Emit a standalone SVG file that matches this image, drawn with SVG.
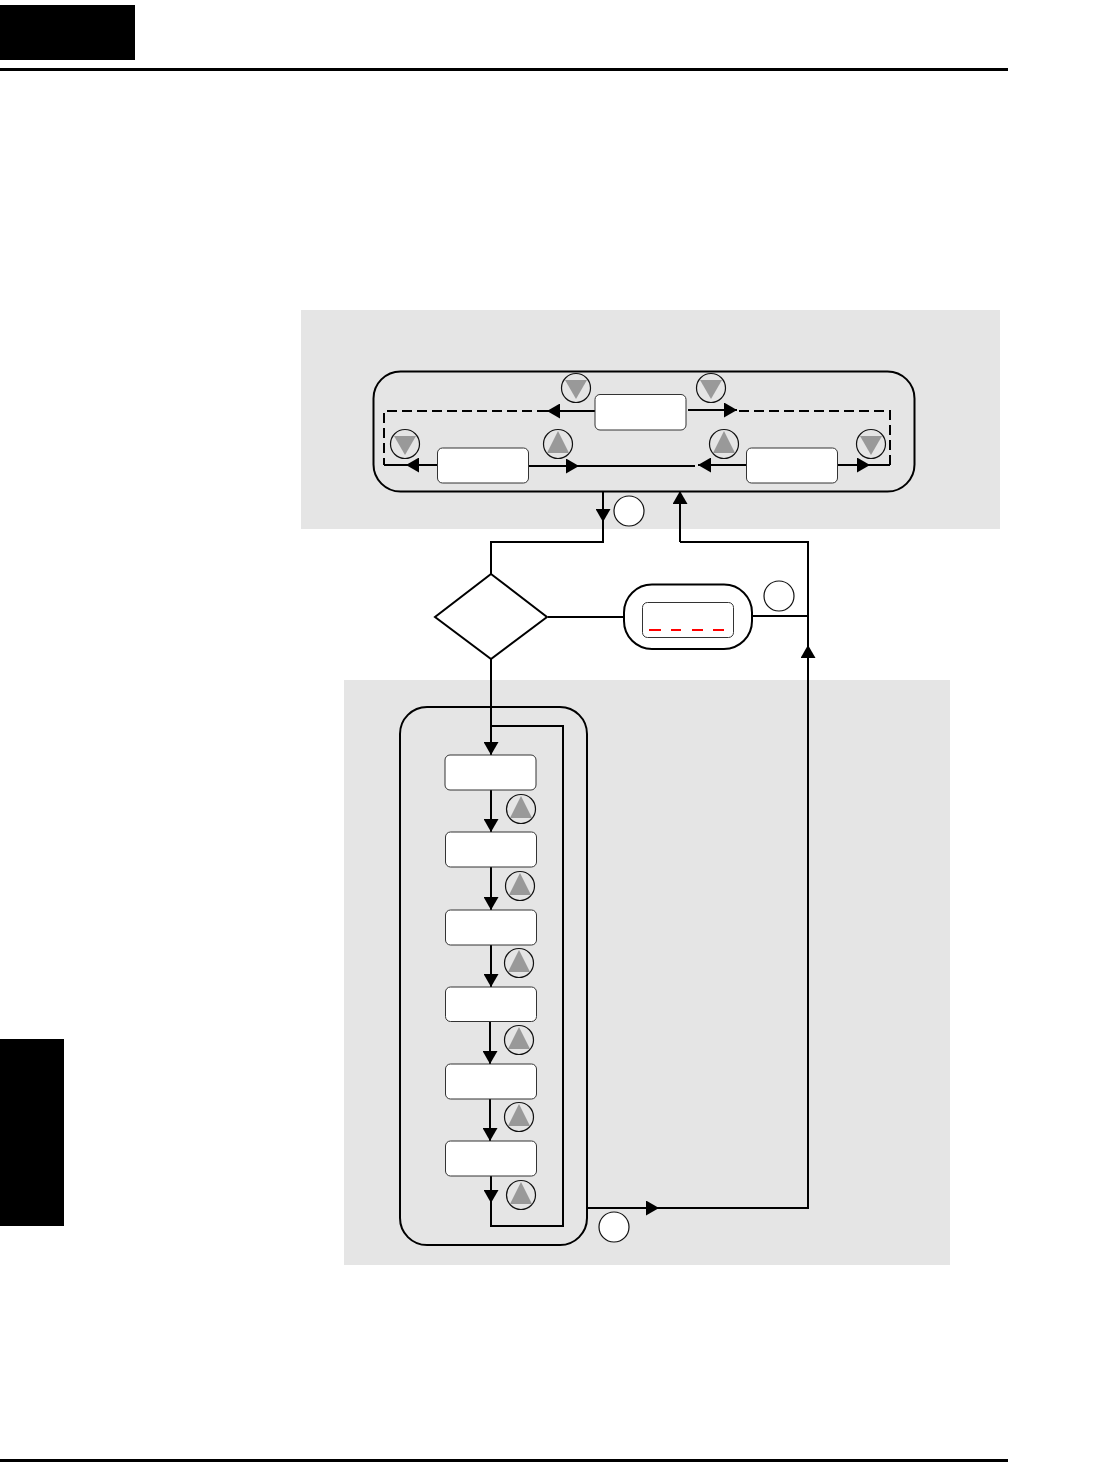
<svg xmlns="http://www.w3.org/2000/svg" width="1120" height="1471" viewBox="0 0 1120 1471">
<defs>
<style>
.panel{fill:#e5e5e5}
.black{fill:#000}
.frame{fill:none;stroke:#000;stroke-width:2}
.box{fill:#fff;stroke:#333;stroke-width:1}
.badge{fill:#fff;stroke:#111;stroke-width:1.200}
.btn{fill:none;stroke:#111;stroke-width:1.200}
.tri{fill:#999}
.wire{fill:none;stroke:#000;stroke-width:2}
.arr{marker-end:url(#ah)}
.dash{stroke-dasharray:10 5}
.red{stroke:#f00;stroke-width:2;fill:none}
</style>
<marker id="ah" markerUnits="userSpaceOnUse" markerWidth="14" markerHeight="15" refX="13" refY="7.5" orient="auto">
<polygon points="0,0 13,7.5 0,15" fill="#000"/>
</marker>
<g id="btnUp"><circle class="btn" r="14.5"/><polygon class="tri" points="0,-13 11,9 -11,9"/></g>
<g id="btnDown"><circle class="btn" r="14.5"/><polygon class="tri" points="-11,-8 11,-8 0,11"/></g>
</defs>
<rect width="1120" height="1471" fill="#fff"/>
<g id="page">
<rect class="black" x="0" y="5" width="135" height="55"/>
<rect class="black" x="0" y="68" width="1008" height="3"/>
<rect class="black" x="0" y="1039" width="64" height="187"/>
<rect class="black" x="0" y="1459" width="1008" height="3"/>
<rect class="panel" x="301" y="310" width="699" height="219"/>
<rect class="panel" x="344" y="680" width="606" height="585"/>
</g>
<g id="frame-top"><rect class="frame" x="373.500" y="371.500" width="541" height="120" rx="27"/></g>
<g id="frame-list"><rect class="frame" x="400" y="707" width="187" height="538" rx="27"/></g>
<g id="connectors">
<path class="wire arr" d="M595 411H547"/>
<path class="wire dash" d="M547 411H384V465"/>
<path class="wire" d="M384 465H406"/>
<path class="wire arr" d="M437 465H406"/>
<path class="wire arr" d="M528 466H579"/>
<path class="wire" d="M579 466H695"/>
<path class="wire arr" d="M746 465H698"/>
<path class="wire arr" d="M837 465H870"/>
<path class="wire" d="M870 465H890"/>
<path class="wire dash" d="M890 465V411H737"/>
<path class="wire arr" d="M688 410H737"/>
<path class="wire arr" d="M603 491V522"/>
<path class="wire" d="M603 522V542H491V574"/>
<path class="wire arr" d="M680 542V491"/>
<path class="wire" d="M680 542H808V1208H659"/>
<path class="wire arr" d="M808 700V645"/>
<path class="wire arr" d="M587 1208H659"/>
<path class="wire" d="M548 617H624"/>
<path class="wire" d="M752 616H808"/>
<path class="wire arr" d="M491 659V755"/>
<path class="wire" d="M491 726H563V1226H491V1190"/>
<path class="wire arr" d="M491 790V832"/>
<path class="wire arr" d="M491 867V910"/>
<path class="wire arr" d="M491 945V987"/>
<path class="wire arr" d="M490 1021V1064"/>
<path class="wire arr" d="M490 1099V1141"/>
<path class="wire arr" d="M491 1176V1203"/>
</g>
<g id="box-top"><rect class="box" x="595" y="394.500" width="91" height="35.500" rx="5"/></g>
<g id="box-left"><rect class="box" x="437.500" y="448" width="91" height="35" rx="5"/></g>
<g id="box-right"><rect class="box" x="746.500" y="448" width="91" height="35" rx="5"/></g>
<g id="btn-1"><use href="#btnDown" x="576" y="388"/></g>
<g id="btn-2"><use href="#btnDown" x="711" y="388"/></g>
<g id="btn-3"><use href="#btnDown" x="405" y="444"/></g>
<g id="btn-4"><use href="#btnUp" x="558" y="444"/></g>
<g id="btn-5"><use href="#btnUp" x="724" y="444"/></g>
<g id="btn-6"><use href="#btnDown" x="871" y="444"/></g>
<g id="badge-1"><circle class="badge" cx="629" cy="511" r="15"/></g>
<g id="badge-2"><circle class="badge" cx="779" cy="596" r="15"/></g>
<g id="badge-3"><circle class="badge" cx="614" cy="1227" r="15"/></g>
<g id="decision"><polygon class="frame" points="491,574 547,617 491,659 435,617"/></g>
<g id="error-display">
<rect class="frame" x="624" y="584.500" width="128" height="64.500" rx="28"/>
<rect class="box" x="642.500" y="602.500" width="91" height="35" rx="5"/>
<path class="red" d="M649 630H661M671 630H681M692 630H703M713 630H724"/>
</g>
<g id="item-1"><rect class="box" x="445" y="755" width="91" height="35" rx="5"/></g>
<g id="item-2"><rect class="box" x="445.500" y="832" width="91" height="35" rx="5"/></g>
<g id="item-3"><rect class="box" x="445.500" y="910" width="91" height="35" rx="5"/></g>
<g id="item-4"><rect class="box" x="445.500" y="987" width="91" height="34.500" rx="5"/></g>
<g id="item-5"><rect class="box" x="445.500" y="1064" width="91" height="35" rx="5"/></g>
<g id="item-6"><rect class="box" x="445.500" y="1141" width="91" height="35" rx="5"/></g>
<g id="btn-7"><use href="#btnUp" x="521" y="809"/></g>
<g id="btn-8"><use href="#btnUp" x="520" y="886"/></g>
<g id="btn-9"><use href="#btnUp" x="519" y="963"/></g>
<g id="btn-10"><use href="#btnUp" x="519" y="1040"/></g>
<g id="btn-11"><use href="#btnUp" x="519" y="1117"/></g>
<g id="btn-12"><use href="#btnUp" x="521" y="1195"/></g>
</svg>
